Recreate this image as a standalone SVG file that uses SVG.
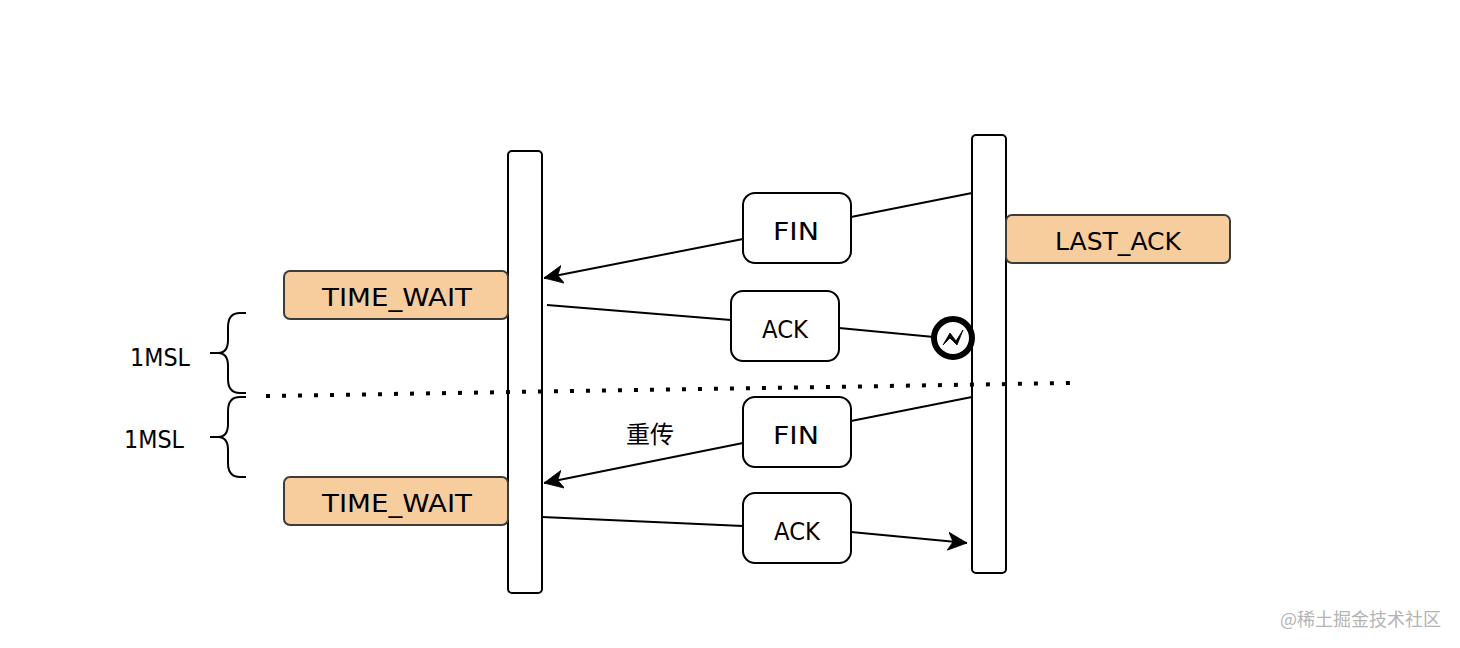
<svg xmlns="http://www.w3.org/2000/svg" width="1460" height="648" viewBox="0 0 1460 648">
<style>
.t{font-family:"DejaVu Sans","Liberation Sans","Noto Sans CJK SC",sans-serif;font-size:25px;fill:#000;text-anchor:middle}
.cjk{font-family:"Noto Sans CJK SC",sans-serif;font-size:24px;fill:#000;text-anchor:middle}
.box{fill:#fff;stroke:#000;stroke-width:2}
.st{fill:#f8cd9e;stroke:#3c3c3c;stroke-width:2}
.ln{fill:none;stroke:#000;stroke-width:2}
.wm{font-family:"Noto Sans CJK SC",sans-serif;font-size:18px;fill:#b4b4b4}
</style>
<defs>
<marker id="b" markerWidth="20" markerHeight="20" refX="19" refY="10" orient="auto" markerUnits="userSpaceOnUse"><path d="M19 10 L0 1 L5 10 L0 19 Z" fill="#000" stroke="#000" stroke-width="0.8"/></marker>
</defs>
<g id="connectors">
<path class="ln" d="M972 193 L851 217"/><path class="ln" marker-end="url(#b)" d="M743 239 L544 278"/>
<path class="ln" d="M547 305 L731 320"/><path class="ln" d="M839 328 L934 337"/>
<path class="ln" d="M972 397 L851 421"/><path class="ln" marker-end="url(#b)" d="M743 443 L544 483"/>
<path class="ln" d="M542 517 L743 526"/><path class="ln" marker-end="url(#b)" d="M851 532 L967 543"/>
</g>
<g id="client"><rect class="box" x="508" y="151" width="34" height="442" rx="4"/></g>
<g id="server"><rect class="box" x="972" y="135" width="34" height="438" rx="4"/></g>
<g id="fin1"><rect class="box" x="743" y="193" width="108" height="70" rx="12"/><text class="t" x="796" y="240" textLength="46" lengthAdjust="spacingAndGlyphs">FIN</text></g>
<g id="ack1"><rect class="box" x="731" y="291" width="108" height="70" rx="12"/><text class="t" x="785" y="338" textLength="46" lengthAdjust="spacingAndGlyphs">ACK</text></g>
<g id="fin2"><rect class="box" x="743" y="397" width="108" height="70" rx="12"/><text class="t" x="796" y="444" textLength="46" lengthAdjust="spacingAndGlyphs">FIN</text></g>
<g id="ack2"><rect class="box" x="743" y="493" width="108" height="70" rx="12"/><text class="t" x="797" y="540" textLength="46" lengthAdjust="spacingAndGlyphs">ACK</text></g>
<g id="last-ack"><rect class="st" x="1006" y="215" width="224" height="48" rx="6"/><text class="t" x="1118" y="250" textLength="126" lengthAdjust="spacingAndGlyphs">LAST_ACK</text></g>
<g id="time-wait-1"><rect class="st" x="284" y="271" width="224" height="48" rx="6"/><text class="t" x="397" y="306" textLength="150" lengthAdjust="spacingAndGlyphs">TIME_WAIT</text></g>
<g id="time-wait-2"><rect class="st" x="284" y="477" width="224" height="48" rx="6"/><text class="t" x="397" y="512" textLength="150" lengthAdjust="spacingAndGlyphs">TIME_WAIT</text></g>
<g id="lost"><circle cx="953" cy="338" r="19" fill="#fff" stroke="#000" stroke-width="6"/><path d="M943 345 L950 333 L956 341 L963 330 L957 345 L950 338 Z" fill="#000" stroke="#000" stroke-width="0.8"/></g>
<g id="brace-1"><path class="ln" d="M246 313 H240 Q228 313 228 327 V340 Q228 353 218 353 H210 M218 353 Q228 353 228 366 V379 Q228 393 240 393 H246"/><text class="t" x="160" y="366" textLength="60" lengthAdjust="spacingAndGlyphs">1MSL</text></g>
<g id="brace-2"><path class="ln" d="M246 397 H240 Q228 397 228 411 V424 Q228 437 218 437 H210 M218 437 Q228 437 228 450 V463 Q228 477 240 477 H246"/><text class="t" x="154" y="448" textLength="60" lengthAdjust="spacingAndGlyphs">1MSL</text></g>
<g id="label"><text class="cjk" x="650" y="443">重传</text></g>
<path id="divider" d="M266 396 L1072 383" fill="none" stroke="#000" stroke-width="4" stroke-dasharray="4 12"/>
<text class="wm" x="1280" y="626">@稀土掘金技术社区</text>
</svg>
